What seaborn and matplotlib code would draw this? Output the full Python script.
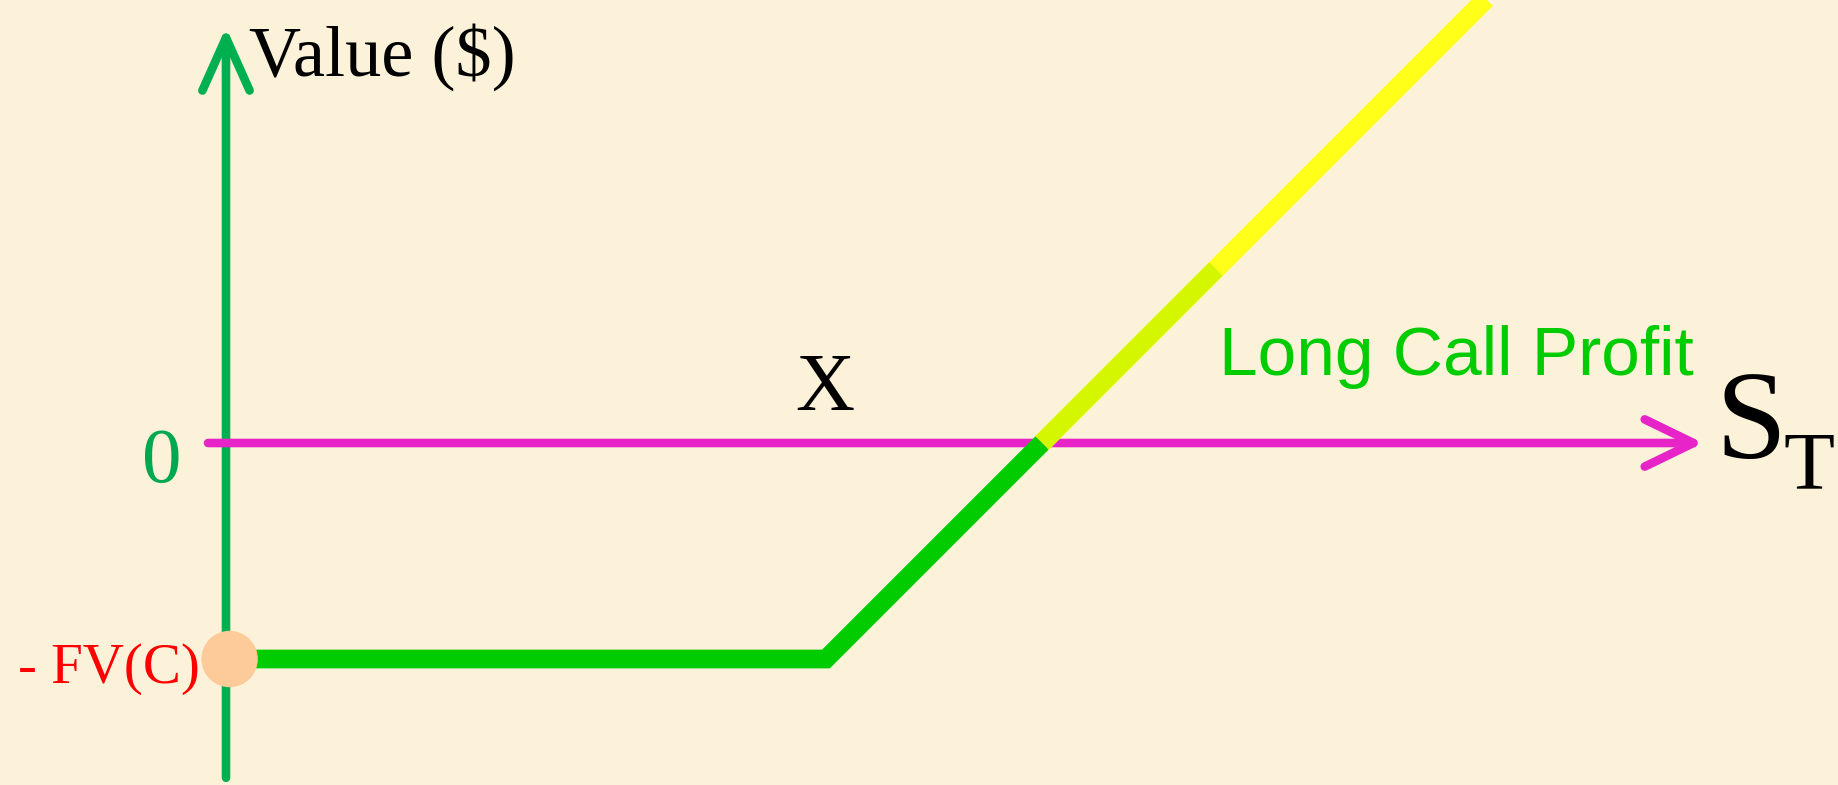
import matplotlib
matplotlib.use("Agg")
import matplotlib.pyplot as plt
import seaborn as sns

# -------------------------
# Payoff data (long call, profit at expiry)
# -------------------------
strike = 100          # X
premium = 36          # FV(C)
loss_leg_s = [0, 100, 136]        # S_T, flat loss then up to break-even
loss_leg_profit = [-36, -36, 0]
gain_leg_s = [136, 210]           # above break-even
gain_leg_profit = [0, 74]
label_leg_s = [136, 165]          # highlighted "Long Call Profit" piece
label_leg_profit = [0, 29]
cost_point_s = [0.6]
cost_point_profit = [-36]

# colours
bg = "#FCF2D9"
axis_green = "#00B050"
axis_magenta = "#E624C8"
payoff_green = "#00CC00"
payoff_yellow = "#FFFF1A"
payoff_lime = "#D4F700"
dot_color = "#FDCB9A"

fig = plt.figure(figsize=(18.38, 7.85), dpi=100)
fig.patch.set_facecolor(bg)
ax = fig.add_axes([0, 0, 1, 1])
ax.set_facecolor(bg)
ax.set_xlim(-226 / 6, (1838 - 226) / 6)
ax.set_ylim((443 - 785) / 6, 443 / 6)
ax.axis("off")

serif = ["Liberation Serif", "DejaVu Serif"]

# axes with arrows
ax.annotate("", xy=(0, 69.3), xytext=(0, -55.8),
            arrowprops=dict(arrowstyle="->,head_length=1.9,head_width=0.85",
                            lw=6.2, color=axis_green, mutation_scale=20,
                            shrinkA=0, shrinkB=0, capstyle="round", joinstyle="round"),
            zorder=1)
ax.annotate("", xy=(246.2, 0), xytext=(-3, 0),
            arrowprops=dict(arrowstyle="->,head_length=1.75,head_width=0.85",
                            lw=6.2, color=axis_magenta, mutation_scale=20,
                            shrinkA=0, shrinkB=0, capstyle="round", joinstyle="round"),
            zorder=1)

# payoff lines
sns.lineplot(x=gain_leg_s, y=gain_leg_profit, ax=ax, color=payoff_yellow, linewidth=14,
             sort=False, estimator=None, solid_capstyle="butt", zorder=3)
sns.lineplot(x=label_leg_s, y=label_leg_profit, ax=ax, color=payoff_lime, linewidth=13.5,
             sort=False, estimator=None, solid_capstyle="butt", zorder=4)
sns.lineplot(x=loss_leg_s, y=loss_leg_profit, ax=ax, color=payoff_green, linewidth=13.5,
             sort=False, estimator=None, solid_capstyle="butt",
             solid_joinstyle="miter", zorder=4)
sns.scatterplot(x=cost_point_s, y=cost_point_profit, ax=ax, color=dot_color,
                s=1650, edgecolor="none", zorder=5)

# labels
ax.text(3.8, 61.3, "Value ($)", family=serif, fontsize=52, color="black",
        ha="left", va="baseline")
ax.text(-10.7, -6.5, "0", family=serif, fontsize=57, color="#00A850",
        ha="center", va="baseline")
ax.text(-4.3, -40, "- FV(C)", family=serif, fontsize=41, color="#FF0000",
        ha="right", va="baseline")
ax.text(99.8, 5.5, "X", family=serif, fontsize=59, color="black",
        ha="center", va="baseline")
ax.text(165.5, 11.3, "Long Call Profit", family=["Liberation Sans", "DejaVu Sans"],
        fontsize=50, color=payoff_green, ha="left", va="baseline")
ax.text(248.2, -2.5, "S", family=serif, fontsize=92, color="black",
        ha="left", va="baseline")
ax.text(259.5, -7.5, "T", family=serif, fontsize=60, color="black",
        ha="left", va="baseline")

fig.savefig("out.png", dpi=100, facecolor=bg)
